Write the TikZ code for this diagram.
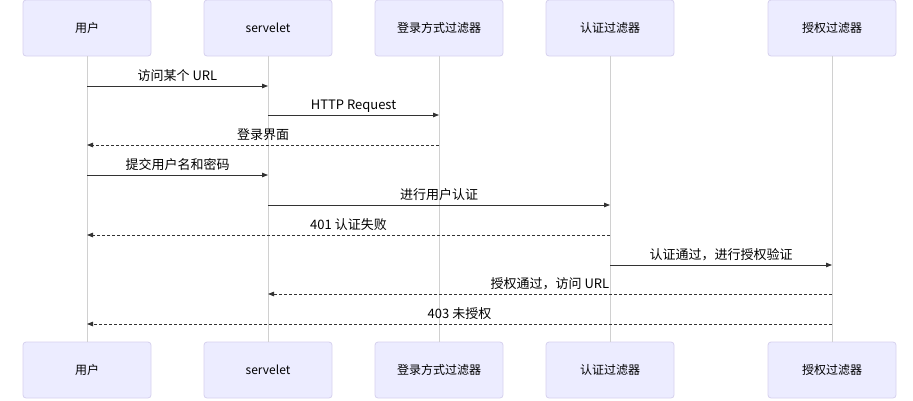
\documentclass[tikz,border=0pt]{standalone}
\usepackage{fontspec}
\setmainfont{Noto Sans CJK SC}
\usetikzlibrary{arrows.meta}
\definecolor{boxfill}{HTML}{ECECFF}
\definecolor{boxline}{HTML}{D6D0EE}
\definecolor{lifeline}{HTML}{D0D0D0}
\definecolor{msg}{HTML}{333333}
\begin{document}
\begin{tikzpicture}[x=1pt,y=1pt,
  actor/.style={draw=boxline, fill=boxfill, rounded corners=3pt, minimum width=128pt, minimum height=56pt, inner sep=0pt, font=\fontsize{12}{14}\selectfont, text=black, line width=0.8pt},
  life/.style={draw=lifeline, line width=0.7pt},
  call/.style={draw=msg, line width=0.8pt, -{Triangle[length=6pt,width=4.5pt]}},
  reply/.style={call, dash pattern=on 3pt off 2pt},
  lbl/.style={font=\fontsize{13}{15}\selectfont, text=black, inner sep=0pt, anchor=base}
]
\useasboundingbox (0,0) rectangle (913,-400);
% top actors
\node[actor] (t1) at (87,-28) {用户};
\node[actor] (t2) at (268,-28) {servelet};
\node[actor] (t3) at (439,-28) {登录方式过滤器};
\node[actor] (t4) at (610,-28) {认证过滤器};
\node[actor] (t5) at (832,-28) {授权过滤器};
% bottom actors
\node[actor] (b1) at (87,-370) {用户};
\node[actor] (b2) at (268,-370) {servelet};
\node[actor] (b3) at (439,-370) {登录方式过滤器};
\node[actor] (b4) at (610,-370) {认证过滤器};
\node[actor] (b5) at (832,-370) {授权过滤器};
% lifelines
\foreach \i in {1,...,5} { \draw[life] (t\i.south) -- (b\i.north); }
% message points
\coordinate (m1a) at (87,-86);  \coordinate (m1b) at (268,-86);
\coordinate (m2a) at (268,-115); \coordinate (m2b) at (439,-115);
\coordinate (m3a) at (439,-145); \coordinate (m3b) at (87,-145);
\coordinate (m4a) at (87,-175); \coordinate (m4b) at (268,-175);
\coordinate (m5a) at (268,-205); \coordinate (m5b) at (610,-205);
\coordinate (m6a) at (610,-235); \coordinate (m6b) at (87,-235);
\coordinate (m7a) at (610,-265); \coordinate (m7b) at (832,-265);
\coordinate (m8a) at (832,-294); \coordinate (m8b) at (268,-294);
\coordinate (m9a) at (832,-324); \coordinate (m9b) at (87,-324);
% messages
\draw[call] (m1a) -- (m1b);
\node[lbl] (l1) at (177.5,-80) {访问某个 URL};
\draw[call] (m2a) -- (m2b);
\node[lbl] (l2) at (353.5,-109) {HTTP Request};
\draw[reply] (m3a) -- (m3b);
\node[lbl] (l3) at (263,-139) {登录界面};
\draw[call] (m4a) -- (m4b);
\node[lbl] (l4) at (177.5,-169) {提交用户名和密码};
\draw[call] (m5a) -- (m5b);
\node[lbl] (l5) at (439,-199) {进行用户认证};
\draw[reply] (m6a) -- (m6b);
\node[lbl] (l6) at (348.5,-229) {401 认证失败};
\draw[call] (m7a) -- (m7b);
\node[lbl] (l7) at (721,-259) {认证通过，进行授权验证};
\draw[reply] (m8a) -- (m8b);
\node[lbl] (l8) at (550,-288) {授权通过，访问 URL};
\draw[reply] (m9a) -- (m9b);
\node[lbl] (l9) at (459.5,-318) {403 未授权};
\end{tikzpicture}
\end{document}
